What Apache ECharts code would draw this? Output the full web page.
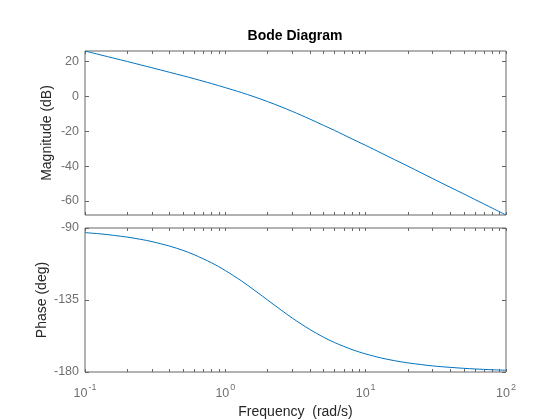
<!DOCTYPE html>
<html>
<head>
<meta charset="utf-8">
<script src="https://cdn.jsdelivr.net/npm/echarts@6/dist/echarts.min.js"></script>
<style>
  html, body { margin: 0; padding: 0; background: #fff; }
  #chart { width: 560px; height: 420px; }
</style>
</head>
<body>
<div id="chart"></div>
<script>
// frequencies (rad/s)
var freq = [0.1, 0.13, 0.16, 0.2, 0.25, 0.3, 0.4, 0.5, 0.6, 0.8,
  1, 1.3, 1.6, 2, 2.5, 3, 4, 5, 6, 8,
  10, 13, 16, 20, 25, 30, 40, 50, 60, 80, 100]
// magnitude (dB)
var magDb = [26.0, 23.7, 21.9, 20.0, 18.0, 16.4, 13.8, 11.8, 10.1, 7.3,
  5.0, 2.2, -0.2, -3.0, -6.0, -8.6, -13.0, -16.6, -19.5, -24.4,
  -28.1, -32.6, -36.2, -40.0, -43.9, -47.1, -52.1, -55.9, -59.1, -64.1, -68.0]
// phase (deg)
var phaseDeg = [-92.9, -93.7, -94.6, -95.7, -97.1, -98.5, -101.3, -104.0, -106.7, -111.8,
  -116.6, -123.0, -128.7, -135.0, -141.3, -146.3, -153.4, -158.2, -161.6, -166.0,
  -168.7, -171.3, -172.9, -174.3, -175.4, -176.2, -177.1, -177.7, -178.1, -178.6, -178.9]
// tick positions
var decades = [0.1, 1, 10, 100]
var xTicks = [0.1, 0.2, 0.3, 0.4, 0.5, 0.6, 0.7, 0.8, 0.9,
  1, 2, 3, 4, 5, 6, 7, 8, 9,
  10, 20, 30, 40, 50, 60, 70, 80, 90, 100]
var magTicks = [-60, -40, -20, 0, 20]
var phaseTicks = [-180, -135, -90]

var axisColor = '#666'
var labelColor = '#707070'
var font = 'Liberation Sans, Arial, sans-serif'

function pairs (ys) {
  return freq.map(function (f, i) { return [f, ys[i]] })
}

function xAxisFor (gridIndex, pos, withLabels) {
  return {
    type: 'log',
    logBase: 10,
    gridIndex: gridIndex,
    position: pos,
    min: 0.1,
    max: 100,
    interval: 1,
    axisLine: { show: false, onZero: false },
    splitLine: { show: false },
    axisTick: { show: true, inside: true, length: 3, customValues: xTicks, lineStyle: { color: axisColor } },
    axisLabel: {
      show: withLabels,
      customValues: decades,
      margin: 9,
      color: labelColor,
      fontFamily: font,
      formatter: function (v) {
        return '{b|10}{s|' + Math.round(Math.log10(v)) + '}'
      },
      rich: {
        b: { fontSize: 12.5, color: labelColor, fontFamily: font, padding: [6, 0, 0, 0] },
        s: { fontSize: 9, color: labelColor, fontFamily: font, padding: [0, 0, 6, 1] }
      }
    }
  }
}

function yAxisFor (gridIndex, pos, min, max, ticks, withLabels) {
  return {
    type: 'value',
    gridIndex: gridIndex,
    position: pos,
    min: min,
    max: max,
    axisLine: { show: false, onZero: false },
    splitLine: { show: false },
    axisTick: { show: true, inside: true, length: 4, customValues: ticks, lineStyle: { color: axisColor } },
    axisLabel: {
      show: withLabels,
      customValues: ticks,
      margin: 6,
      color: labelColor,
      fontSize: 12.5,
      fontFamily: font
    }
  }
}

var chart = echarts.init(document.getElementById('chart'))

var nameStyle = { color: '#262626', fontSize: 14, fontFamily: font }

var xs = [
  xAxisFor(0, 'bottom', false),
  xAxisFor(0, 'top', false),
  xAxisFor(1, 'bottom', true),
  xAxisFor(1, 'top', false)
]
xs[2].name = 'Frequency  (rad/s)'
xs[2].nameLocation = 'middle'
xs[2].nameGap = 33
xs[2].nameTextStyle = nameStyle

var ys = [
  yAxisFor(0, 'left', -68, 26, magTicks, true),
  yAxisFor(0, 'right', -68, 26, magTicks, false),
  yAxisFor(1, 'left', -180, -90, phaseTicks, true),
  yAxisFor(1, 'right', -180, -90, phaseTicks, false)
]
ys[0].name = 'Magnitude (dB)'
ys[0].nameLocation = 'middle'
ys[0].nameGap = 31
ys[0].nameMoveOverlap = false
ys[0].nameTextStyle = nameStyle
ys[2].name = 'Phase (deg)'
ys[2].nameLocation = 'middle'
ys[2].nameGap = 36
ys[2].nameMoveOverlap = false
ys[2].nameTextStyle = nameStyle

var option = {
  backgroundColor: '#fff',
  animation: false,
  title: {
    text: 'Bode Diagram',
    left: 295,
    top: 29,
    textAlign: 'center',
    padding: 0,
    textStyle: { color: '#000', fontSize: 14, fontWeight: 'bold', fontFamily: font }
  },
  grid: [
    { left: 85, top: 51, width: 421, height: 164, show: true, borderColor: axisColor, borderWidth: 1, backgroundColor: 'transparent' },
    { left: 85, top: 228, width: 421, height: 145, show: true, borderColor: axisColor, borderWidth: 1, backgroundColor: 'transparent' }
  ],
  xAxis: xs,
  yAxis: ys,
  series: [
    {
      type: 'line',
      xAxisIndex: 0,
      yAxisIndex: 0,
      data: pairs(magDb),
      showSymbol: false,
      smooth: 0.3,
      lineStyle: { color: '#0072BD', width: 1 },
      itemStyle: { color: '#0072BD' }
    },
    {
      type: 'line',
      xAxisIndex: 2,
      yAxisIndex: 2,
      data: pairs(phaseDeg),
      showSymbol: false,
      smooth: 0.3,
      lineStyle: { color: '#0072BD', width: 1 },
      itemStyle: { color: '#0072BD' }
    }
  ]
}

chart.setOption(option)
</script>
</body>
</html>
